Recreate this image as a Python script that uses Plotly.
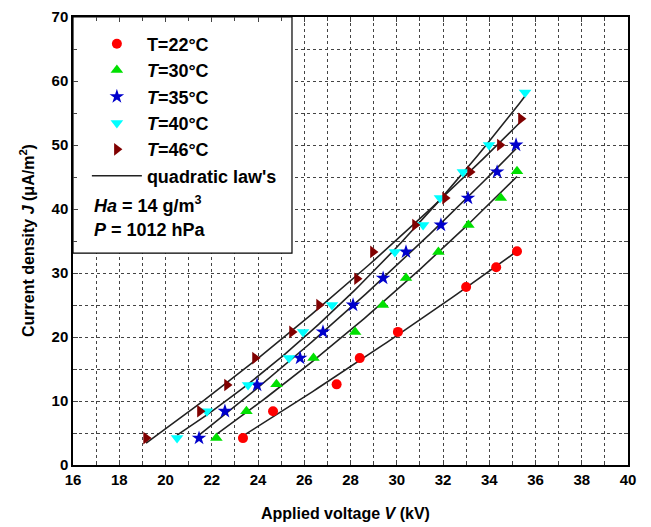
import numpy as np
import plotly.graph_objects as go

# ---- data ----
v22 = [23.35, 24.65, 27.4, 28.4, 30.05, 33.0, 34.3, 35.2]
j22 = [4.2, 8.4, 12.6, 16.7, 20.8, 27.8, 30.9, 33.4]

v30 = [22.2, 23.5, 24.8, 26.4, 28.2, 29.4, 30.4, 31.8, 33.1, 34.5, 35.2]
j30 = [4.2, 8.4, 12.6, 16.7, 20.8, 25.0, 29.2, 33.3, 37.5, 41.7, 45.9]

v35 = [21.45, 22.57, 23.96, 25.82, 26.81, 28.11, 29.41, 30.40, 31.91, 33.08, 34.34, 35.16]
j35 = [4.2, 8.4, 12.5, 16.7, 20.8, 25.0, 29.2, 33.3, 37.5, 41.7, 45.8, 50.0]

v40 = [20.50, 21.79, 23.57, 25.34, 25.95, 27.2, 29.92, 31.14, 31.87, 32.86, 33.99, 35.55]
j40 = [4.2, 8.4, 12.5, 16.7, 20.8, 25.0, 33.3, 37.5, 41.7, 45.8, 50.0, 58.2]

v46 = [19.16, 21.49, 22.66, 23.87, 25.47, 26.64, 28.28, 28.97, 30.79, 32.09, 33.17, 34.46, 35.37]
j46 = [4.2, 8.4, 12.5, 16.7, 20.8, 25.0, 29.1, 33.3, 37.5, 41.7, 45.8, 50.0, 54.1]

x_ticks = list(range(16, 41, 2))
y_ticks = list(range(0, 71, 10))

series = [
    ("T=22°C", v22, j22, "circle", "#ff0000", 10),
    ("<i>T</i>=30°C", v30, j30, "triangle-up", "#00e000", 11),
    ("<i>T</i>=35°C", v35, j35, "star", "#0000cc", 11),
    ("<i>T</i>=40°C", v40, j40, "triangle-down", "#00ffff", 11),
    ("<i>T</i>=46°C", v46, j46, "triangle-right", "#800000", 11),
]

FONT = "Arial"
fig = go.Figure()

# quadratic fits (drawn from the data)
for i, (name, vx, jy, sym, col, sz) in enumerate(series):
    c = np.polyfit(vx, jy, 2)
    xs = np.linspace(min(vx), max(vx), 60)
    fig.add_trace(go.Scatter(
        x=xs, y=np.polyval(c, xs), mode="lines",
        line=dict(color="#222222", width=1.6),
        name="quadratic law's", showlegend=(i == 0), legendrank=10,
        hoverinfo="skip"))

for k, (name, vx, jy, sym, col, sz) in enumerate(series):
    fig.add_trace(go.Scatter(
        x=vx, y=jy, mode="markers", name=name, legendrank=k + 1,
        marker=dict(symbol=sym, color=col, size=sz, line=dict(width=0))))

fig.update_layout(
    width=651, height=527,
    margin=dict(l=73, r=23, t=17, b=62, autoexpand=False),
    paper_bgcolor="white", plot_bgcolor="white",
    font=dict(family=FONT, color="black", size=15),
    showlegend=True,
    legend=dict(x=0.025, y=0.981, xanchor="left", yanchor="top",
                bgcolor="rgba(0,0,0,0)", borderwidth=0,
                font=dict(family=FONT, size=18, color="black", weight="bold"),
                itemwidth=50, tracegroupgap=0),
    xaxis=dict(range=[16, 40], tickvals=x_ticks, ticks="inside", ticklen=5,
               showline=True, linecolor="black", linewidth=1.5, mirror="ticks",
               showgrid=True, gridcolor="#444444", griddash="dot", gridwidth=1,
               minor=dict(dtick=1, ticks="inside", ticklen=4, showgrid=True,
                          gridcolor="#444444", griddash="dot", gridwidth=1),
               zeroline=False, automargin=False,
               tickfont=dict(size=15, weight="bold")),
    yaxis=dict(range=[0, 70], tickvals=y_ticks, ticks="inside", ticklen=5,
               showline=True, linecolor="black", linewidth=1.5, mirror="ticks",
               showgrid=True, gridcolor="#444444", griddash="dot", gridwidth=1,
               minor=dict(dtick=5, ticks="inside", ticklen=4, showgrid=True,
                          gridcolor="#444444", griddash="dot", gridwidth=1),
               zeroline=False, automargin=False,
               tickfont=dict(size=15, weight="bold")),
)

# axis titles
fig.add_annotation(x=(345 - 73) / 555, xref="paper", y=-(513 - 465) / 448, yref="paper",
                   text="Applied voltage <i>V</i> (kV)", showarrow=False,
                   xanchor="center", yanchor="middle",
                   font=dict(family=FONT, size=16, weight="bold"))
fig.add_annotation(x=-(73 - 27) / 555, xref="paper", y=0.5, yref="paper",
                   text="Current density <i>J</i> (μA/m<sup>2</sup>)", showarrow=False,
                   textangle=-90, xanchor="center", yanchor="middle",
                   font=dict(family=FONT, size=16, weight="bold"))

# legend frame (white box covering grid)
fig.add_shape(type="rect", xref="x", yref="y", x0=16, x1=25.47, y0=33.1, y1=70,
              line=dict(color="black", width=1.2), fillcolor="white", layer="between")

fig.add_annotation(x=0.034, xref="paper", y=(465 - 204) / 448, yref="paper",
                   text="<i>Ha</i> = 14 g/m<sup>3</sup>", showarrow=False,
                   xanchor="left", yanchor="middle",
                   font=dict(family=FONT, size=18, weight="bold"))
fig.add_annotation(x=0.034, xref="paper", y=(465 - 230) / 448, yref="paper",
                   text="<i>P</i> = 1012 hPa", showarrow=False,
                   xanchor="left", yanchor="middle",
                   font=dict(family=FONT, size=18, weight="bold"))

fig.write_html("out.html")
